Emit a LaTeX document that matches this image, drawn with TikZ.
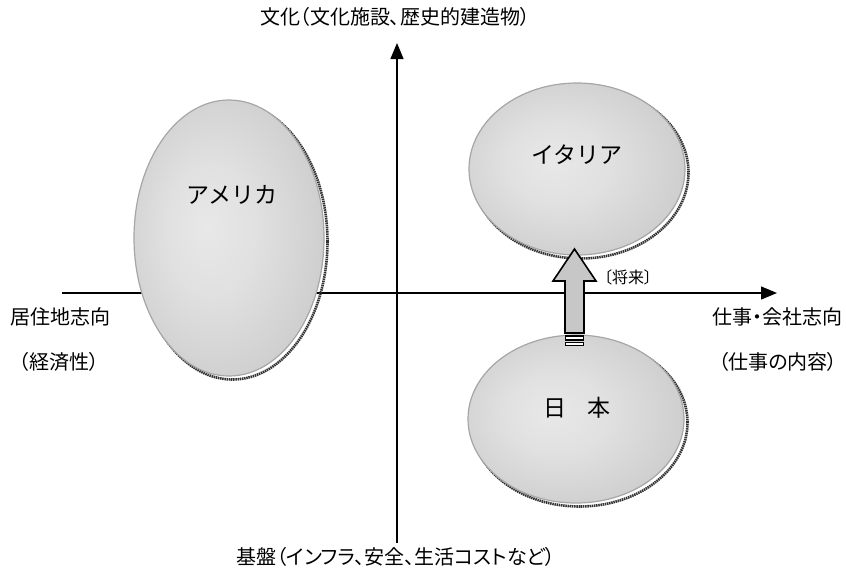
\documentclass[tikz,border=0pt]{standalone}
\usepackage{fontspec}
\newfontfamily\jp{Noto Sans CJK JP}
\newfontfamily\jpp[RawFeature=+palt]{Noto Sans CJK JP}
\usetikzlibrary{arrows.meta,shapes.geometric}
\pgfdeclareradialshading{blobshade}{\pgfpoint{-6bp}{2bp}}{%
  color(0bp)=(black!9); color(12bp)=(black!12); color(30bp)=(black!20); color(45bp)=(black!30); color(50bp)=(black!34)}
\tikzset{
  axislabel/.style={font=\jpp\fontsize{20pt}{22pt}\selectfont, inner sep=0pt},
  blobtext/.style={font=\jp\fontsize{23pt}{25pt}\selectfont, inner sep=0pt},
  blob/.style={ellipse, draw=black!35, line width=1.2pt, shading=blobshade, inner sep=0pt},
  blobshadow/.style={ellipse, draw=black!80, line width=2.6pt, dash pattern=on 1.5pt off 0.7pt, inner sep=0pt},
  axis/.style={line width=1.4pt, -{Triangle[length=16pt,width=13pt]}},
  bigarrow/.style={draw=black, line width=1.6pt, fill=black!22, line join=miter},
}
\begin{document}
\begin{tikzpicture}[x=1pt,y=-1pt]
\useasboundingbox (0,0) rectangle (846,574);
% axes
\coordinate (xl) at (62,293);
\coordinate (xr) at (777,293);
\coordinate (yb) at (397,543);
\coordinate (yt) at (397,43);
\draw[axis] (xl) -- (xr);
\draw[axis] (yb) -- (yt);
% axis labels
\node[axislabel] (top) at (395,17) {文化（文化施設、歴史的建造物）};
\node[axislabel] (bottom) at (396,557) {基盤（インフラ、安全、生活コストなど）};
\node[axislabel] (left1) at (60,317) {居住地志向};
\node[axislabel] (left2) at (59,362) {（経済性）};
\node[axislabel] (right1) at (777,317) {仕事・会社志向};
\node[axislabel] (right2) at (778,362) {（仕事の内容）};
% ellipses: shadows
\node[blobshadow, minimum width=190pt, minimum height=276pt] at (232.5,241.5) {};
\node[blobshadow, minimum width=216pt, minimum height=172pt] at (580.5,172.5) {};
\node[blobshadow, minimum width=216pt, minimum height=168pt] at (579.5,422.5) {};
% ellipses
\node[blob, minimum width=190pt, minimum height=276pt] (usa) at (229,238) {};
\node[blob, minimum width=216pt, minimum height=172pt] (ita) at (577,169) {};
\node[blob, minimum width=216pt, minimum height=168pt] (jpn) at (576,419) {};
\node[blobtext] (usalabel) at (232,195) {アメリカ};
\node[blobtext] (italabel) at (577,155) {イタリア};
\node[blobtext] (jpnlabel) at (577,408) {日\hspace{0.9em}本};
% block arrow from Japan to Italy
\coordinate (tip) at (574.5,249);
\draw[bigarrow] (tip) -- (596,281) -- (584,281) -- (584,333) -- (565,333) -- (565,281) -- (553,281) -- cycle;
\draw[line width=1.4pt, fill=white] (565.5,336) rectangle (583.5,340);
\draw[line width=1.4pt, fill=white] (565.5,342.5) rectangle (583.5,345.5);
\node[inner sep=0pt, font=\jpp\fontsize{16pt}{18pt}\selectfont] (future) at (628,277) {〔将来〕};
\end{tikzpicture}
\end{document}
